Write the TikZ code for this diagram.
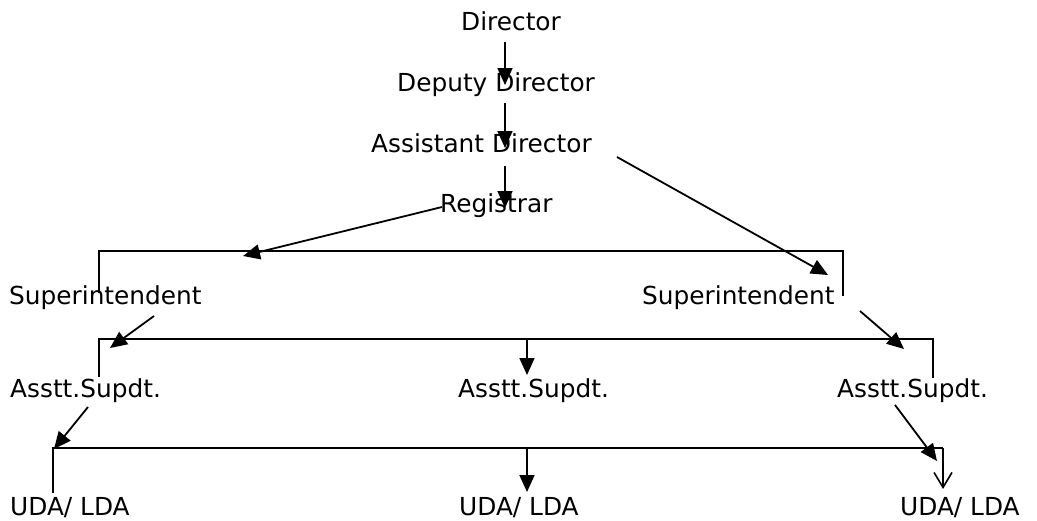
\documentclass[tikz,border=0pt]{standalone}
\usepackage{fontspec}
\setmainfont{DejaVu Sans}
\usetikzlibrary{arrows.meta}
\begin{document}
\begin{tikzpicture}[x=1pt,y=-1pt,
  lbl/.style={anchor=base west,inner sep=0pt,font=\fontsize{24.8}{28}\selectfont},
  ln/.style={line width=1.8pt,line join=miter},
  arr/.style={ln,-{Triangle[length=17pt,width=15pt]}},
  openarr/.style={ln,-{Straight Barb[length=15pt,width=18pt,line width=1.6pt]}}]
\useasboundingbox (0,0) rectangle (1037,520);
% texts
\node[lbl] (dir) at (461,30) {Director};
\node[lbl] (dep) at (397,91) {Deputy Director};
\node[lbl] (asd) at (371,152) {Assistant Director};
\node[lbl] (reg) at (440,212) {Registrar};
\node[lbl] (supl) at (9,304) {Superintendent};
\node[lbl] (supr) at (642,304) {Superintendent};
\node[lbl] (asl) at (10,397) {Asstt.Supdt.};
\node[lbl] (asm) at (458,397) {Asstt.Supdt.};
\node[lbl] (asr) at (837,397) {Asstt.Supdt.};
\node[lbl] (udl) at (10,515) {UDA/ LDA};
\node[lbl] (udm) at (459,515) {UDA/ LDA};
\node[lbl] (udr) at (900,515) {UDA/ LDA};
% connector points
\coordinate (a1s) at (505,42);  \coordinate (a1e) at (505,85);
\coordinate (a2s) at (505,103); \coordinate (a2e) at (505,148);
\coordinate (a3s) at (505,166); \coordinate (a3e) at (505,208);
\coordinate (r1s) at (442,207); \coordinate (r1e) at (243,256);
\coordinate (r2s) at (617,157); \coordinate (r2e) at (828,275);
\coordinate (b1a) at (99,293);  \coordinate (b1b) at (99,251);
\coordinate (b1c) at (843,251); \coordinate (b1d) at (843,296);
\coordinate (s1s) at (154,316); \coordinate (s1e) at (110,348);
\coordinate (s2s) at (860,311); \coordinate (s2e) at (904,349);
\coordinate (b2a) at (99,377);  \coordinate (b2b) at (99,339);
\coordinate (b2c) at (933,339); \coordinate (b2d) at (933,378);
\coordinate (m2s) at (527,339); \coordinate (m2e) at (527,375);
\coordinate (t1s) at (88,407);  \coordinate (t1e) at (54,449);
\coordinate (t2s) at (895,405); \coordinate (t2e) at (937,461);
\coordinate (b3a) at (53,493);  \coordinate (b3b) at (53,448);
\coordinate (b3c) at (943,448); \coordinate (b3d) at (943,489);
\coordinate (m3s) at (527,448); \coordinate (m3e) at (527,492);
% connectors
\draw[arr] (a1s) -- (a1e);
\draw[arr] (a2s) -- (a2e);
\draw[arr] (a3s) -- (a3e);
\draw[arr] (r1s) -- (r1e);
\draw[arr] (r2s) -- (r2e);
\draw[ln] (b1a) -- (b1b) -- (b1c) -- (b1d);
\draw[arr] (s1s) -- (s1e);
\draw[arr] (s2s) -- (s2e);
\draw[ln] (b2a) -- (b2b) -- (b2c) -- (b2d);
\draw[arr] (m2s) -- (m2e);
\draw[arr] (t1s) -- (t1e);
\draw[arr] (t2s) -- (t2e);
\draw[ln] (b3a) -- (b3b) -- (b3c);
\draw[openarr] (b3c) -- (b3d);
\draw[arr] (m3s) -- (m3e);
\end{tikzpicture}
\end{document}
